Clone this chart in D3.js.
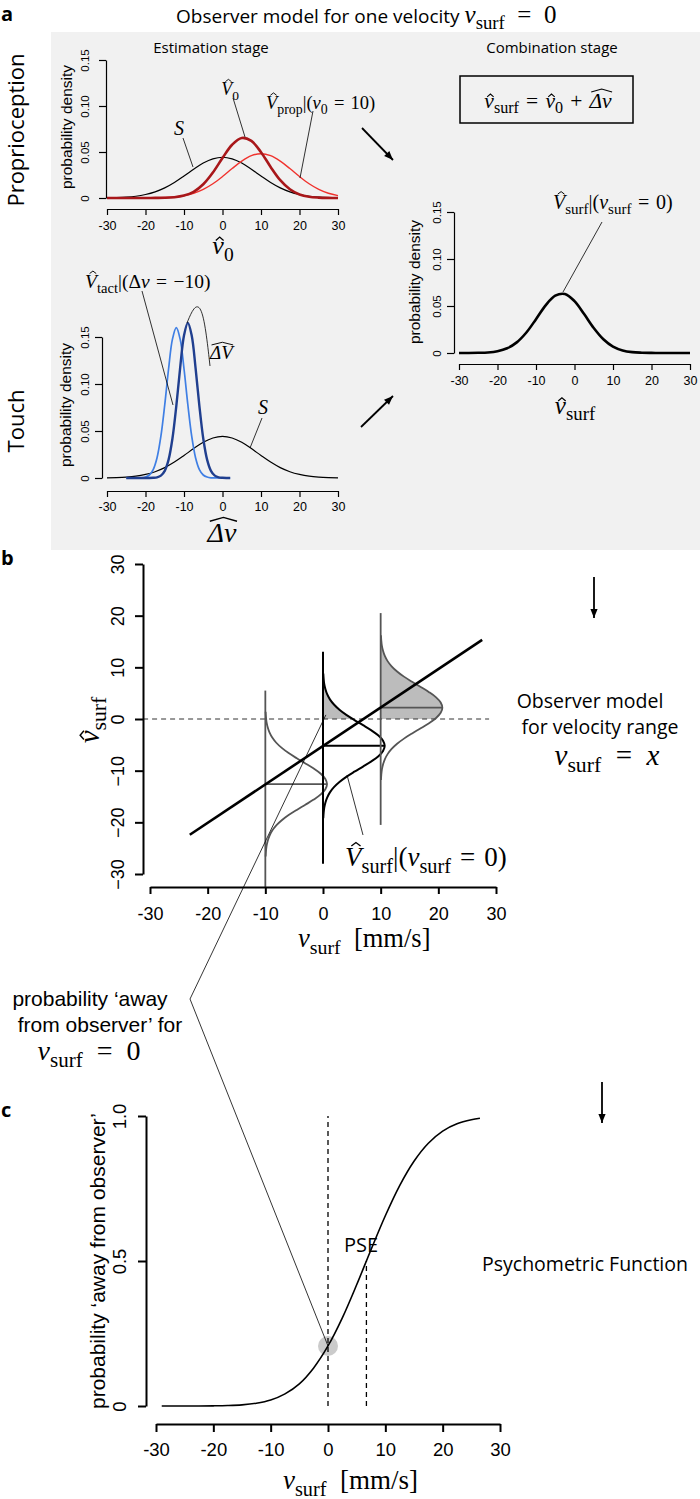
<!DOCTYPE html>
<html><head><meta charset="utf-8">
<script src="https://cdn.jsdelivr.net/npm/d3@7"></script>
<style>html,body{margin:0;padding:0;background:#fff}svg{display:block}text{white-space:pre}</style>
</head><body>
<svg id="fig" width="700" height="1499"></svg>
<script>
// ================= DATA =================
const xTicks = [-30, -20, -10, 0, 10, 20, 30];
const xTickLabels = ["-30", "-20", "-10", "0", "10", "20", "30"];
const densTicks = [0, 0.05, 0.10, 0.15];
const densTickLabels = ["0", "0.05", "0.10", "0.15"];
const bYTicks = [-30, -20, -10, 0, 10, 20, 30];
const bYTickLabels = ["\u221230", "\u221220", "\u221210", "0", "10", "20", "30"];
const cYTicks = [0, 0.5, 1];
const cYTickLabels = ["0", "0.5", "1.0"];

// panel a: densities on a common velocity grid
const gridA = [-30, -27.5, -25, -22.5, -20, -17.5, -15, -12.5, -10, -7.5, -5, -2.5, 0, 2.5, 5, 7.5, 10, 12.5, 15, 17.5, 20, 22.5, 25, 27.5, 30];
const priorS = [0.0002, 0.0004, 0.0009, 0.0019, 0.0038, 0.0067, 0.0110, 0.0169, 0.0239, 0.0313, 0.0380, 0.0426, 0.0443, 0.0426, 0.0380, 0.0313, 0.0239, 0.0169, 0.0110, 0.0067, 0.0038, 0.0019, 0.0009, 0.0004, 0.0002];
const propV = [0, 0, 0, 0, 0.0001, 0.0002, 0.0005, 0.0012, 0.0026, 0.0052, 0.0094, 0.0155, 0.0233, 0.0320, 0.0401, 0.0460, 0.0481, 0.0460, 0.0401, 0.0320, 0.0233, 0.0155, 0.0094, 0.0052, 0.0026];
const propV0 = [0, 0, 0, 0, 0, 0.0001, 0.0002, 0.0008, 0.0026, 0.0067, 0.0149, 0.0277, 0.0435, 0.0579, 0.0652, 0.0620, 0.0498, 0.0338, 0.0194, 0.0095, 0.0039, 0.0013, 0.0004, 0.0001, 0];
const combV = [0, 0, 0.0002, 0.0006, 0.0019, 0.0050, 0.0113, 0.0218, 0.0360, 0.0507, 0.0610, 0.0628, 0.0552, 0.0414, 0.0266, 0.0146, 0.0068, 0.0027, 0.0009, 0.0003, 0.0001, 0, 0, 0, 0];
// touch: narrow densities
const gridT = [-25, -24, -23, -22, -21, -20, -19, -18, -17, -16, -15, -14, -13, -12, -11, -10, -9, -8, -7, -6, -5, -4, -3, -2, -1, 0, 1, 2];
const tactV = [0, 0, 0, 0.0001, 0.0002, 0.0010, 0.0032, 0.0090, 0.0216, 0.0445, 0.0779, 0.1162, 0.1477, 0.1600, 0.1477, 0.1162, 0.0779, 0.0445, 0.0216, 0.0090, 0.0032, 0.0010, 0.0002, 0.0001, 0, 0, 0, 0];
const deltaV = [0, 0, 0, 0, 0, 0, 0, 0.0002, 0.0007, 0.0025, 0.0076, 0.0195, 0.0420, 0.0765, 0.1172, 0.1515, 0.1650, 0.1515, 0.1172, 0.0765, 0.0420, 0.0195, 0.0076, 0.0025, 0.0007, 0.0002, 0, 0];

// panel b
const bColX = [-10, 0, 10];
const bColMean = [-12.6, -5.2, 2.2];
const bColTop = [5.5, 13, 20.5];
const bColBottom = [-32.5, -28, -20.5];
const bShapeOffset = [-14, -13, -12, -11, -10, -9, -8, -7, -6, -5, -4, -3, -2, -1, 0, 1, 2, 3, 4, 5, 6, 7, 8, 9, 10, 11, 12, 13, 14];
const bShapeDens = [0.05, 0.11, 0.21, 0.41, 0.72, 1.20, 1.90, 2.85, 4.04, 5.45, 6.94, 8.39, 9.61, 10.41, 10.7, 10.41, 9.61, 8.39, 6.94, 5.45, 4.04, 2.85, 1.90, 1.20, 0.72, 0.41, 0.21, 0.11, 0.05];
const bLineX = [-23.1, 27.6];
const bLineY = [-22.4, 15.3];
const bLinkX = [0.5];
const bLinkY = [0.8];

// panel c
const cX = [-29, -27.5, -25, -22.5, -20, -17.5, -15, -12.5, -10, -7.5, -5, -2.5, 0, 2.5, 5, 7.5, 10, 12.5, 15, 17.5, 20, 22.5, 25, 26.5];
const cP = [0, 0, 0.0001, 0.0002, 0.0006, 0.0016, 0.0040, 0.0096, 0.0207, 0.0418, 0.0764, 0.1314, 0.207, 0.304, 0.418, 0.539, 0.656, 0.760, 0.844, 0.906, 0.948, 0.973, 0.987, 0.992];
const cObsX = [0];
const cObsP = [0.207];
const pseX = [6.7];
const pseP = [0.5];

// ================= DRAWING =================
const SANS = "'Liberation Sans', Arial, Helvetica, sans-serif";
const MYR = "'Open Sans', 'Noto Sans', sans-serif";
const SERIF = "'Liberation Serif', 'DejaVu Serif', serif";
const svg = d3.select("#fig");

function mtext(parent, x, y, segs, o) {
  const size = o.size, sp0 = o.sp || "\u2004";
  const g = parent.append("g");
  if (o.rotate) g.attr("transform", `rotate(${o.rotate},${x},${y})`);
  const t = g.append("text").attr("x", x).attr("y", y).attr("font-size", size)
    .attr("font-family", SERIF).attr("text-anchor", o.anchor || "start").attr("fill", "#000");
  let sub = false, idx = 0;
  const hats = [];
  segs.forEach(s => {
    let [str, kind, hat] = s;
    if (kind === "r") str = str.replace(/ ([=+]) /g, sp0 + "$1" + sp0);
    const sp = t.append("tspan").text(str);
    const isSub = kind === "sub";
    if (isSub !== sub) sp.attr("dy", (isSub ? 1 : -1) * 0.25 * size);
    sub = isSub;
    if (isSub) sp.attr("font-size", 0.75 * size);
    if (kind === "i") sp.attr("font-style", "italic");
    if (kind === "s") sp.attr("font-family", o.sansFamily || MYR).attr("font-size", o.sansSize || size);
    if (hat) hats.push({ start: idx, len: str.length, type: hat });
    idx += str.length;
  });
  const n = t.node();
  hats.forEach(h => {
    const a = n.getExtentOfChar(h.start), b = n.getExtentOfChar(h.start + h.len - 1);
    const x0 = a.x, x1 = b.x + b.width;
    let p;
    if (h.type === "w") {
      const hy = y - 0.74 * size;
      p = `M${x0 + 0.08 * size},${hy} L${(x0 + x1) / 2 + 0.05 * size},${hy - 0.14 * size} L${x1 + 0.02 * size},${hy}`;
    } else {
      const cap = h.type === "H";
      const hy = y - (cap ? 0.74 : 0.52) * size;
      const cx = (x0 + x1) / 2 + (cap ? 0.1 : 0.06) * size;
      const hw = (cap ? 0.17 : 0.15) * size;
      p = `M${cx - hw},${hy} L${cx},${hy - 0.13 * size} L${cx + hw},${hy}`;
    }
    g.append("path").attr("d", p).attr("fill", "none").attr("stroke", "#000").attr("stroke-width", 0.05 * size);
  });
  return g;
}

function plain(parent, x, y, str, o) {
  const t = parent.append("text").attr("x", x).attr("y", y).text(str)
    .attr("font-family", o.family || MYR).attr("font-size", o.size)
    .attr("text-anchor", o.anchor || "start").attr("fill", "#000");
  if (o.weight) t.attr("font-weight", o.weight);
  if (o.rotate) t.attr("transform", `rotate(${o.rotate},${x},${y})`);
  return t;
}

function axisB(sc, ticks, labels, y, o) {
  const ax = d3.axisBottom(sc).tickValues(ticks).tickFormat((d, i) => labels[i])
    .tickSizeInner(o.tick).tickSizeOuter(0).tickPadding(o.pad);
  const a = svg.append("g").attr("transform", `translate(0,${y})`).call(ax);
  a.select(".domain").attr("stroke", "#000").attr("stroke-width", o.sw);
  a.selectAll(".tick line").attr("stroke", "#000").attr("stroke-width", o.sw);
  a.selectAll(".tick text").attr("font-family", SANS).attr("font-size", o.fs).attr("fill", "#000");
}
function axisL(sc, ticks, labels, x, o) {
  const ax = d3.axisLeft(sc).tickValues(ticks).tickFormat((d, i) => labels[i])
    .tickSizeInner(o.tick).tickSizeOuter(0);
  const a = svg.append("g").attr("transform", `translate(${x},0)`).call(ax);
  a.select(".domain").attr("stroke", "#000").attr("stroke-width", o.sw);
  a.selectAll(".tick line").attr("stroke", "#000").attr("stroke-width", o.sw);
  a.selectAll(".tick text").attr("font-family", SANS).attr("font-size", o.fs).attr("fill", "#000")
    .attr("transform", "rotate(-90)").attr("x", 0).attr("y", -o.off).attr("dy", 0).attr("text-anchor", "middle");
}
function seg(x1, y1, x2, y2, sw, col) {
  return svg.append("line").attr("x1", x1).attr("y1", y1).attr("x2", x2).attr("y2", y2)
    .attr("stroke", col || "#000").attr("stroke-width", sw || 0.8);
}
function arrow(x1, y1, x2, y2) {
  seg(x1, y1, x2, y2, 1.8);
  const ang = Math.atan2(y2 - y1, x2 - x1), L = 9, W = 3.6;
  const bx = x2 - L * Math.cos(ang), by = y2 - L * Math.sin(ang);
  const px = -Math.sin(ang) * W, py = Math.cos(ang) * W;
  svg.append("path").attr("d", `M${x2},${y2} L${bx + px},${by + py} L${bx - px},${by - py} Z`).attr("fill", "#000");
}

// ---- background box ----
svg.append("rect").attr("x", 51).attr("y", 32).attr("width", 649).attr("height", 518).attr("fill", "#f1f1f1");

// ---- titles ----
plain(svg, 1, 21, "a", { size: 20, weight: "bold" });
mtext(svg, 176, 23, [["Observer model for one velocity ", "s"], ["v", "i"], ["surf", "sub"], [" = 0", "r"]],
  { size: 25, sansSize: 19, sp: "\u2002" });
plain(svg, 211, 53, "Estimation stage", { size: 15, anchor: "middle" });
plain(svg, 552, 53, "Combination stage", { size: 15, anchor: "middle" });
plain(svg, 24, 130, "Proprioception", { size: 22, anchor: "middle", rotate: -90 });
plain(svg, 24, 421, "Touch", { size: 22, anchor: "middle", rotate: -90 });

// ---- proprioception ----
const xP = d3.scaleLinear([-30, 30], [107, 338]);
const yP = d3.scaleLinear([0, 0.15], [198, 60]);
const lineP = arr => d3.line().x((d, i) => xP(gridA[i])).y(d => yP(d)).curve(d3.curveCatmullRom)(arr);
svg.append("path").attr("d", lineP(priorS)).attr("fill", "none").attr("stroke", "#000").attr("stroke-width", 1.2);
svg.append("path").attr("d", lineP(propV)).attr("fill", "none").attr("stroke", "#f0322d").attr("stroke-width", 1.4);
svg.append("path").attr("d", lineP(propV0)).attr("fill", "none").attr("stroke", "#a8171a").attr("stroke-width", 2.6);
axisB(xP, xTicks, xTickLabels, 209, { tick: 6, pad: 6, sw: 1.2, fs: 12.5 });
axisL(yP, densTicks, densTickLabels, 106, { tick: 7, off: 17, sw: 1.2, fs: 11.5 });
plain(svg, 72, 127, "probability density", { family: SANS, size: 15.5, anchor: "middle", rotate: -90 });
mtext(svg, 223, 254, [["v", "i", "h"], ["0", "sub"]], { size: 26, anchor: "middle" });
mtext(svg, 179, 135, [["S", "i"]], { size: 20, anchor: "middle" });
seg(183, 138, 193, 167);
mtext(svg, 230, 95, [["V", "i", "H"], ["0", "sub"]], { size: 18, anchor: "middle" });
seg(233, 98, 245, 137);
mtext(svg, 266, 109, [["V", "i", "H"], ["prop", "sub"], ["|(", "r"], ["v", "i"], ["0", "sub"], [" = 10)", "r"]], { size: 18.5 });
seg(313, 111, 300, 178);

// ---- touch ----
const xT = d3.scaleLinear([-30, 30], [107, 338]);
const yT = d3.scaleLinear([0, 0.15], [478, 337]);
const lineTS = d3.line().x((d, i) => xT(gridA[i])).y(d => yT(d)).curve(d3.curveCatmullRom);
const lineTN = d3.line().x((d, i) => xT(gridT[i])).y(d => yT(d)).curve(d3.curveCatmullRom);
svg.append("path").attr("d", lineTS(priorS)).attr("fill", "none").attr("stroke", "#000").attr("stroke-width", 1.2);
svg.append("path").attr("d", lineTN(tactV)).attr("fill", "none").attr("stroke", "#3f7fe4").attr("stroke-width", 1.7);
svg.append("path").attr("d", lineTN(deltaV)).attr("fill", "none").attr("stroke", "#203f8f").attr("stroke-width", 2.4);
axisB(xT, xTicks, xTickLabels, 491, { tick: 6, pad: 5.5, sw: 1.2, fs: 12.5 });
axisL(yT, densTicks, densTickLabels, 102, { tick: 7, off: 13, sw: 1.2, fs: 11.5 });
plain(svg, 71, 405, "probability density", { family: SANS, size: 15.5, anchor: "middle", rotate: -90 });
mtext(svg, 222, 542, [["\u0394v", "i", "w"]], { size: 28, anchor: "middle" });
mtext(svg, 85, 288, [["V", "i", "H"], ["tact", "sub"], ["|(\u0394", "r"], ["v", "i"], [" = \u221210)", "r"]], { size: 19.5 });
seg(142, 291, 173, 405);
mtext(svg, 210, 359, [["\u0394V", "i", "w"]], { size: 19 });
svg.append("path").attr("d", d3.line().curve(d3.curveBasis)([[187, 323], [194, 306], [201, 306], [206, 330], [210, 366]]))
  .attr("fill", "none").attr("stroke", "#000").attr("stroke-width", 0.8);
mtext(svg, 263, 414, [["S", "i"]], { size: 20, anchor: "middle" });
seg(262, 418, 250, 448);

// ---- combination ----
svg.append("rect").attr("x", 460).attr("y", 76).attr("width", 173).attr("height", 47)
  .attr("fill", "none").attr("stroke", "#000").attr("stroke-width", 1.5);
mtext(svg, 548, 108, [["v", "i", "h"], ["surf", "sub"], [" = ", "r"], ["v", "i", "h"], ["0", "sub"], [" + ", "r"], ["\u0394v", "i", "w"]],
  { size: 21.5, anchor: "middle" });
arrow(362, 128, 393, 160);
arrow(361, 427, 393, 396);
const xC = d3.scaleLinear([-30, 30], [459, 690]);
const yC = d3.scaleLinear([0, 0.15], [353, 212]);
svg.append("path").attr("d", d3.line().x((d, i) => xC(gridA[i])).y(d => yC(d)).curve(d3.curveCatmullRom)(combV))
  .attr("fill", "none").attr("stroke", "#000").attr("stroke-width", 2.6);
axisB(xC, xTicks, xTickLabels, 364, { tick: 6, pad: 6, sw: 1.2, fs: 12.5 });
axisL(yC, densTicks, densTickLabels, 454, { tick: 7, off: 13, sw: 1.2, fs: 11.5 });
plain(svg, 420, 282, "probability density", { family: SANS, size: 15.5, anchor: "middle", rotate: -90 });
mtext(svg, 575, 414, [["v", "i", "h"], ["surf", "sub"]], { size: 25, anchor: "middle" });
mtext(svg, 553, 209, [["V", "i", "H"], ["surf", "sub"], ["|(", "r"], ["v", "i"], ["surf", "sub"], [" = 0)", "r"]], { size: 20 });
seg(602, 222, 563, 292);

// ---- panel b ----
plain(svg, 1, 565, "b", { size: 20, weight: "bold" });
const xB = d3.scaleLinear([-30, 30], [150, 496]);
const yB = d3.scaleLinear([-30, 30], [874, 564]);
svg.append("defs").append("clipPath").attr("id", "above0").append("rect")
  .attr("x", 0).attr("y", 0).attr("width", 700).attr("height", yB(0));
const colStroke = ["#555", "#000", "#555"];
const colWidth = [1.8, 2.0, 1.8];
bColX.forEach((cx, k) => {
  const pts = bShapeOffset.map((off, i) => [cx + bShapeDens[i], bColMean[k] + off]);
  const area = d3.area().y(d => yB(d[1])).x0(xB(cx)).x1(d => xB(d[0])).curve(d3.curveCatmullRom);
  svg.append("path").attr("d", area(pts)).attr("fill", "#bcbcbc").attr("clip-path", "url(#above0)");
});
seg(xB(-31.2), yB(0), xB(28.8), yB(0), 1, "#333").attr("stroke-dasharray", "5,4");
bColX.forEach((cx, k) => {
  const pts = bShapeOffset.map((off, i) => [cx + bShapeDens[i], bColMean[k] + off]);
  seg(xB(cx), yB(bColTop[k]), xB(cx), yB(bColBottom[k]), colWidth[k], colStroke[k]);
  svg.append("path").attr("d", d3.line().x(d => xB(d[0])).y(d => yB(d[1])).curve(d3.curveCatmullRom)(pts))
    .attr("fill", "none").attr("stroke", colStroke[k]).attr("stroke-width", colWidth[k]);
  seg(xB(cx), yB(bColMean[k]), xB(cx + bShapeDens[14]), yB(bColMean[k]), colWidth[k], colStroke[k]);
});
seg(xB(bLineX[0]), yB(bLineY[0]), xB(bLineX[1]), yB(bLineY[1]), 2.6);
axisB(xB, xTicks, xTickLabels, 887, { tick: 7, pad: 13, sw: 2, fs: 18 });
axisL(yB, bYTicks, bYTickLabels, 143, { tick: 8, off: 19, sw: 2, fs: 18 });
mtext(svg, 99, 720, [["v", "i", "h"], ["surf", "sub"]], { size: 29, anchor: "middle", rotate: -90 });
mtext(svg, 298, 947, [["v", "i"], ["surf", "sub"], ["  [mm/s]", "r"]], { size: 26.5 });
mtext(svg, 345, 866, [["V", "i", "H"], ["surf", "sub"], ["|(", "r"], ["v", "i"], ["surf", "sub"], [" = 0)", "r"]], { size: 27 });
seg(363, 835, 347, 775);
arrow(594, 577, 594, 618);
plain(svg, 590, 708, "Observer model", { size: 19.5, anchor: "middle" });
plain(svg, 600, 734, "for velocity range", { size: 19.5, anchor: "middle" });
mtext(svg, 607, 765, [["v", "i"], ["surf", "sub"], [" = ", "r"], ["x", "i"]], { size: 29, anchor: "middle", sp: "\u2002" });

// ---- panel c ----
plain(svg, 1, 1117, "c", { size: 20, weight: "bold" });
const xc = d3.scaleLinear([-30, 30], [156, 500]);
const yc = d3.scaleLinear([0, 1], [1406, 1116]);
svg.append("circle").attr("cx", xc(cObsX[0])).attr("cy", yc(cObsP[0])).attr("r", 10).attr("fill", "#cbcbcb");
seg(xc(0), yc(0), xc(0), yc(1), 1.3).attr("stroke-dasharray", "5,4");
seg(xc(pseX[0]), yc(0), xc(pseX[0]), yc(pseP[0]), 1.3).attr("stroke-dasharray", "5,4");
svg.append("path").attr("d", d3.line().x((d, i) => xc(cX[i])).y(d => yc(d)).curve(d3.curveCatmullRom)(cP))
  .attr("fill", "none").attr("stroke", "#000").attr("stroke-width", 1.6);
axisB(xc, xTicks, xTickLabels, 1424, { tick: 8, pad: 11, sw: 2, fs: 18.5 });
axisL(yc, cYTicks, cYTickLabels, 146, { tick: 8, off: 20, sw: 2, fs: 18.5 });
plain(svg, 105, 1261, "probability \u2018away from observer\u2019", { family: SANS, size: 21, anchor: "middle", rotate: -90 });
mtext(svg, 283, 1489, [["v", "i"], ["surf", "sub"], ["  [mm/s]", "r"]], { size: 27 });
plain(svg, 344, 1252, "PSE", { size: 20 });
plain(svg, 482, 1271, "Psychometric Function", { size: 19.5 });
arrow(602, 1082, 602, 1123);
plain(svg, 90, 1006, "probability \u2018away", { family: SANS, size: 21, anchor: "middle" });
plain(svg, 100, 1032, "from observer\u2019 for", { family: SANS, size: 21, anchor: "middle" });
mtext(svg, 89, 1060, [["v", "i"], ["surf", "sub"], [" = 0", "r"]], { size: 28, anchor: "middle", sp: "\u2002" });

// ---- link line b -> c ----
svg.append("path").attr("d", d3.line()([[xB(bLinkX[0]), yB(bLinkY[0])], [190, 999], [xc(cObsX[0]), yc(cObsP[0])]]))
  .attr("fill", "none").attr("stroke", "#000").attr("stroke-width", 0.8);
</script>
</body></html>
